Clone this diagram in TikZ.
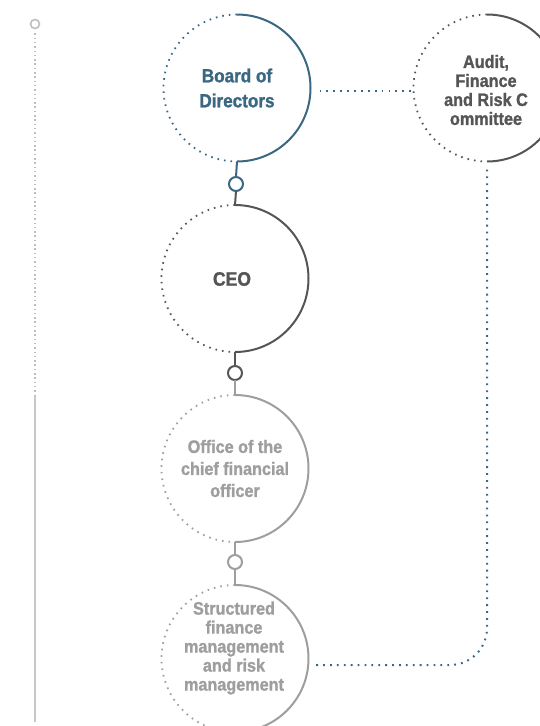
\documentclass[tikz,border=0pt]{standalone}
\usepackage{fontspec}
\setmainfont{Liberation Sans}[FakeStretch=0.9, BoldFeatures={FakeBold=1.3}]
\usetikzlibrary{calc}
\definecolor{bluec}{HTML}{3A6883}
\definecolor{darkc}{HTML}{555555}
\definecolor{lightc}{HTML}{9E9E9E}
\definecolor{tlc}{HTML}{BDBDBD}
\tikzset{
  bignode/.style={circle, minimum size=147pt, inner sep=0pt, outer sep=0pt, align=center, font=\bfseries},
  solidarc/.style={line width=2pt},
  dotarc/.style={line width=1.8pt, dash pattern=on 1.6pt off 5pt},
  dotline/.style={line width=2pt, dash pattern=on 1.8pt off 5.1pt},
  conn/.style={circle, draw, line width=2pt, minimum size=14pt, inner sep=0pt, outer sep=0pt, fill=white},
  link/.style={line width=2pt},
}
\begin{document}
\begin{tikzpicture}[x=1pt,y=1pt]
\useasboundingbox (0,0) rectangle (540,-726);
% left timeline
\node[circle, draw=tlc, line width=1.6pt, minimum size=9pt, inner sep=0pt] (tl) at (35,-24) {};
\coordinate (tlm) at (35,-396);
\coordinate (tle) at (35,-722);
\draw[tlc, line width=1.6pt, dash pattern=on 1.5pt off 2.8pt] ([yshift=-4pt]tl.south) -- (tlm);
\draw[tlc!85!white, line width=1.5pt] (tlm) -- (tle);

% main circles
\node[bignode, text=bluec, font=\bfseries\fontsize{19}{25}\selectfont] (board) at (237,-88) {Board of\\Directors};
\node[bignode, text=darkc, font=\bfseries\fontsize{18}{19}\selectfont] (audit) at (487,-88) {};
\node[align=center, text=darkc, font=\bfseries\fontsize{18}{19}\selectfont] (audittext) at (486,-90) {Audit,\\Finance\\and Risk C\\ommittee};
\node[bignode, text=darkc, font=\bfseries\fontsize{19.5}{20}\selectfont] (ceo) at (235,-278.5) {};
\node[text=darkc, font=\bfseries\fontsize{19.5}{20}\selectfont] (ceotext) at (232,-279) {CEO};
\node[bignode, text=lightc, font=\bfseries\fontsize{18}{22}\selectfont] (cfo) at (235,-468.5) {Office of the\\chief financial\\officer};
\node[bignode, text=lightc] (sfm) at (235,-658.5) {};
\node[align=center, text=lightc, font=\bfseries\fontsize{18}{19}\selectfont] (sfmtext) at (234,-648) {Structured\\finance\\management\\and risk\\management};

% arcs
\foreach \n/\c in {board/bluec, audit/darkc, ceo/darkc, cfo/lightc, sfm/lightc}{
  \draw[\c, solidarc] (\n.north) arc[start angle=90, end angle=-90, radius=73.5pt];
  \draw[\c, dotarc] (\n.north) arc[start angle=90, end angle=270, radius=73.5pt];
}

% connectors
\node[conn, draw=bluec] (c1) at (236,-184) {};
\node[conn, draw=darkc] (c2) at (235,-373) {};
\node[conn, draw=lightc] (c3) at (235,-562) {};
\draw[bluec, link] (board.south) -- (c1.north);
\draw[darkc, link] (c1.south) -- (ceo.north);
\draw[darkc, link] (ceo.south) -- (c2.north);
\draw[lightc, link] (c2.south) -- (cfo.north);
\draw[lightc, link] (cfo.south) -- (c3.north);
\draw[lightc, link] (c3.south) -- (sfm.north);

% dotted relations
\draw[bluec, dotline] ([shift={(9pt,-3pt)}]board.east) -- ([shift={(-2pt,-3pt)}]audit.west);
\draw[bluec, dotline, rounded corners=37pt] ([yshift=-8pt]audit.south) |- ([shift={(4pt,-6.5pt)}]sfm.east);
\end{tikzpicture}
\end{document}
